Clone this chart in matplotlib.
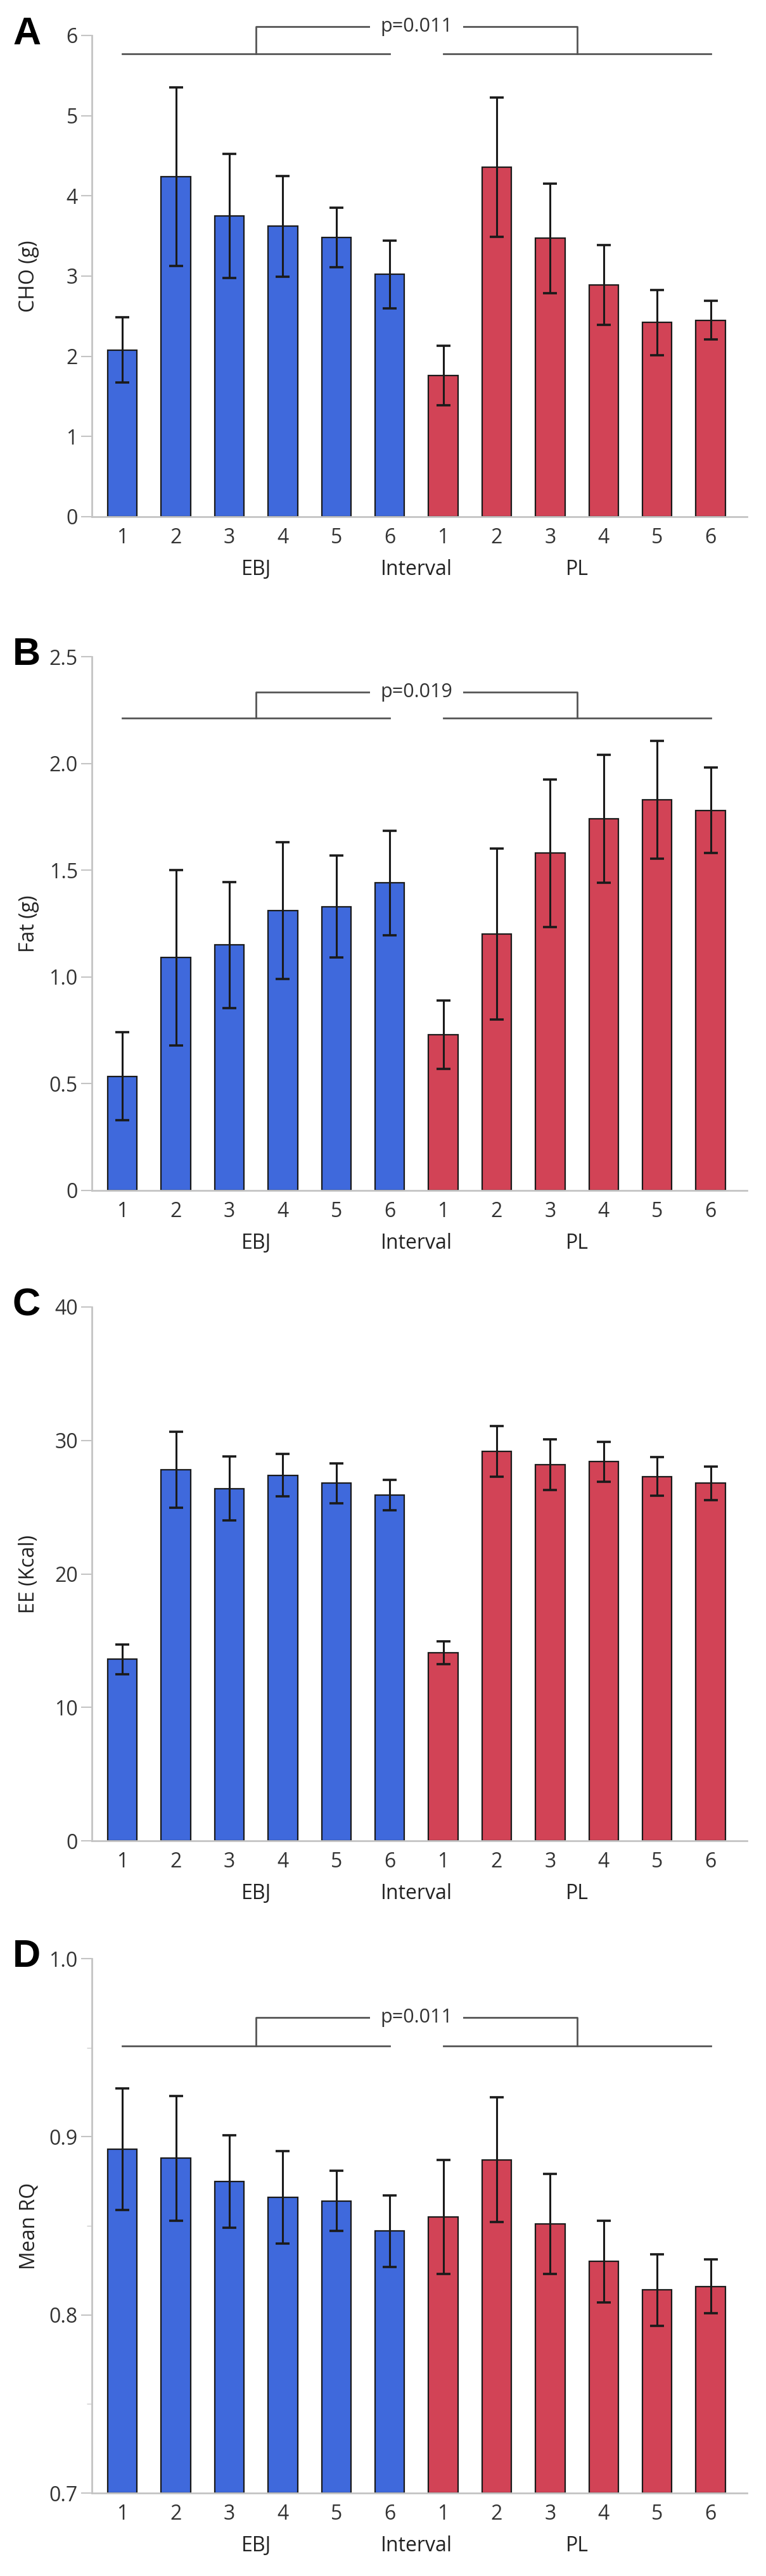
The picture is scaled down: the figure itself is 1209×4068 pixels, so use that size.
import numpy as np
import matplotlib.pyplot as plt
from matplotlib.ticker import MultipleLocator

plt.rcParams['font.family'] = ['Open Sans', 'DejaVu Sans']

tick_labels = ['1', '2', '3', '4', '5', '6', '1', '2', '3', '4', '5', '6']
groups = ['EBJ', 'Interval', 'PL']

cho_mean = [2.08, 4.24, 3.75, 3.62, 3.48, 3.02, 1.76, 4.36, 3.47, 2.89, 2.42, 2.45]
cho_err = [0.41, 1.11, 0.77, 0.63, 0.37, 0.42, 0.37, 0.87, 0.68, 0.50, 0.41, 0.24]

fat_mean = [0.535, 1.09, 1.15, 1.31, 1.33, 1.44, 0.73, 1.20, 1.58, 1.74, 1.83, 1.78]
fat_err = [0.205, 0.41, 0.295, 0.32, 0.24, 0.245, 0.16, 0.40, 0.345, 0.30, 0.275, 0.20]

ee_mean = [13.6, 27.8, 26.4, 27.4, 26.8, 25.9, 14.1, 29.2, 28.2, 28.4, 27.3, 26.8]
ee_err = [1.1, 2.85, 2.4, 1.6, 1.5, 1.15, 0.85, 1.9, 1.9, 1.5, 1.45, 1.25]

rq_mean = [0.893, 0.888, 0.875, 0.866, 0.864, 0.847, 0.855, 0.887, 0.851, 0.830, 0.814, 0.816]
rq_err = [0.034, 0.035, 0.026, 0.026, 0.017, 0.020, 0.032, 0.035, 0.028, 0.023, 0.020, 0.015]

blue = '#3f69dc'
red = '#d24356'

panels = [
    ('A', cho_mean, cho_err, 'CHO (g)', (0, 6), 1, None, ['0', '1', '2', '3', '4', '5', '6'], 'p=0.011', (5.77, 6.11)),
    ('B', fat_mean, fat_err, 'Fat (g)', (0, 2.5), 0.5, None, ['0', '0.5', '1.0', '1.5', '2.0', '2.5'], 'p=0.019', (2.212, 2.335)),
    ('C', ee_mean, ee_err, 'EE (Kcal)', (0, 40), 10, None, ['0', '10', '20', '30', '40'], None, None),
    ('D', rq_mean, rq_err, 'Mean RQ', (0.7, 1.0), 0.1, 0.05, ['0.7', '0.8', '0.9', '1.0'], 'p=0.011', (0.951, 0.967)),
]

# axes boxes in pixels (top, bottom)
boxes = [(56, 816), (1037, 1880), (2064, 2907), (3093, 3937)]

W, H = 1209, 4068
fig = plt.figure(figsize=(W / 100, H / 100), dpi=100)

x = np.arange(12)
colors = [blue] * 6 + [red] * 6

for (letter, mean, err, ylab, ylim, major, minor, yt_labels, ptxt, br), (top, bot) in zip(panels, boxes):
    left, right = 145, 1179
    ax = fig.add_axes([left / W, 1 - bot / H, (right - left) / W, (bot - top) / H])
    ax.bar(x, np.array(mean) - ylim[0], bottom=ylim[0], width=0.55, color=colors,
           edgecolor='#1a1a1a', linewidth=1.6, zorder=2)
    ax.errorbar(x, mean, yerr=err, fmt='none', ecolor='#1a1a1a', elinewidth=2.2,
                capsize=8, capthick=2.6, zorder=3)
    ax.set_xlim(-0.57, 11.68)
    ax.set_ylim(*ylim)
    ticks = np.arange(ylim[0], ylim[1] + major / 2, major)
    ax.set_yticks(ticks)
    ax.set_yticklabels(yt_labels)
    if minor:
        ax.yaxis.set_minor_locator(MultipleLocator(minor))
        ax.tick_params(axis='y', which='minor', length=6, width=1, color='#cccccc')
    ax.set_xticks(x)
    ax.set_xticklabels(tick_labels)
    for s in ['top', 'right']:
        ax.spines[s].set_visible(False)
    for s in ['left', 'bottom']:
        ax.spines[s].set_color('#c4c4c4')
        ax.spines[s].set_linewidth(2)
    ax.tick_params(axis='x', length=0, pad=12, labelsize=23, labelcolor='#333333')
    ax.tick_params(axis='y', which='major', length=12, width=1.5, color='#c4c4c4',
                   pad=4, labelsize=23, labelcolor='#333333')
    ax.set_ylabel(ylab, fontsize=23, color='#222222')
    ax.yaxis.set_label_coords(-0.08, 0.5)

    for g, gx in zip(groups, [2.5, 5.5, 8.5]):
        ax.annotate(g, xy=(gx, 0), xycoords=('data', 'axes fraction'), xytext=(0, -60),
                    textcoords='offset points', ha='center', va='center',
                    fontsize=23, color='#222222')

    if ptxt:
        lo, hi = br
        kw = dict(color='#555555', linewidth=2, clip_on=False, zorder=4)
        ax.plot([0, 5], [lo, lo], **kw)
        ax.plot([6, 11], [lo, lo], **kw)
        ax.plot([2.5, 2.5, 8.5, 8.5], [lo, hi, hi, lo], **kw)
        ax.text(5.5, hi, ptxt, ha='center', va='center', fontsize=22, color='#333333',
                zorder=5, clip_on=False,
                bbox=dict(facecolor='white', edgecolor='none', pad=12))

    fig.text(20 / W, 1 - (top - 2) / H, letter, fontsize=44, fontweight='bold',
             ha='left', va='center', family=['Liberation Sans', 'DejaVu Sans'])

fig.savefig('out.png', dpi=100, facecolor='white')
